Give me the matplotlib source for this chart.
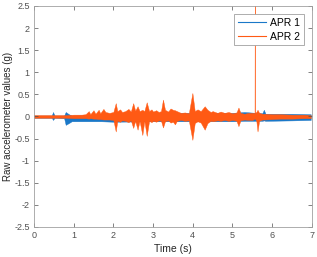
import matplotlib
matplotlib.use("Agg")
import matplotlib.pyplot as plt
from matplotlib.lines import Line2D
import numpy as np

plt.rcParams['font.family'] = ['Liberation Sans', 'DejaVu Sans']

# APR 2 envelope (time s, upper g, lower g)
apr2_t = [0.0, 0.45, 0.8, 1.0, 1.2, 1.3, 1.38, 1.42, 1.5, 1.55, 1.63, 1.67, 1.75, 1.8,
          1.9, 2.0, 2.06, 2.1, 2.17, 2.22, 2.3, 2.38, 2.44, 2.5, 2.55, 2.61, 2.66, 2.73,
          2.78, 2.84, 2.9, 2.96, 3.0, 3.08, 3.14, 3.2, 3.25, 3.3, 3.38, 3.44, 3.5, 3.55,
          3.6, 3.7, 3.8, 3.9, 3.99, 4.05, 4.12, 4.2, 4.3, 4.37, 4.45, 4.5, 4.62, 4.7,
          4.8, 4.9, 5.0, 5.1, 5.15, 5.2, 5.3, 5.4, 5.5, 5.555, 5.56, 5.565, 5.6, 5.63,
          5.67, 5.75, 5.8, 6.0, 6.2, 6.5, 6.8, 6.97]
apr2_hi = [0.03, 0.03, 0.03, 0.04, 0.04, 0.05, 0.12, 0.05, 0.14, 0.06, 0.15, 0.07, 0.17, 0.10,
           0.08, 0.10, 0.30, 0.12, 0.16, 0.10, 0.12, 0.17, 0.11, 0.30, 0.13, 0.23, 0.12, 0.15,
           0.12, 0.32, 0.12, 0.16, 0.11, 0.14, 0.10, 0.12, 0.38, 0.15, 0.11, 0.18, 0.15, 0.14,
           0.12, 0.08, 0.09, 0.07, 0.53, 0.12, 0.16, 0.12, 0.23, 0.15, 0.10, 0.12, 0.08, 0.11,
           0.08, 0.10, 0.07, 0.09, 0.20, 0.08, 0.06, 0.08, 0.08, 0.08, 2.7, 0.08, 0.10, 0.15,
           0.08, 0.06, 0.06, 0.05, 0.05, 0.04, 0.04, 0.03]
apr2_lo = [-0.03, -0.03, -0.03, -0.04, -0.04, -0.04, -0.05, -0.04, -0.05, -0.05, -0.06, -0.06, -0.07, -0.07,
           -0.07, -0.08, -0.34, -0.10, -0.12, -0.09, -0.10, -0.13, -0.09, -0.26, -0.10, -0.30, -0.10, -0.42,
           -0.10, -0.44, -0.10, -0.13, -0.10, -0.12, -0.09, -0.10, -0.25, -0.11, -0.09, -0.14, -0.12, -0.18,
           -0.10, -0.08, -0.10, -0.09, -0.53, -0.15, -0.11, -0.14, -0.30, -0.15, -0.10, -0.11, -0.09, -0.10,
           -0.08, -0.10, -0.08, -0.10, -0.22, -0.09, -0.07, -0.08, -0.08, -0.05, -0.05, -0.05, -0.10, -0.34,
           -0.10, -0.07, -0.07, -0.06, -0.05, -0.05, -0.04, -0.04]

# APR 1 envelope
apr1_t = [0.0, 0.45, 0.48, 0.52, 0.76, 0.8, 0.88, 0.95, 1.7, 2.0, 3.0, 4.0, 5.0,
          5.3, 5.75, 5.79, 5.83, 6.5, 6.97]
apr1_hi = [0.02, 0.02, 0.10, 0.02, 0.02, 0.10, 0.05, 0.02, 0.03, 0.05, 0.08, 0.08, 0.08,
           0.10, 0.07, 0.15, 0.06, 0.06, 0.05]
apr1_lo = [-0.03, -0.03, -0.08, -0.03, -0.04, -0.19, -0.15, -0.11, -0.11, -0.12, -0.11, -0.11, -0.11,
           -0.10, -0.10, -0.09, -0.10, -0.09, -0.08]

blue = '#1A78C8'
orange = '#FF5A14'

fig = plt.figure(figsize=(3.17, 2.57), dpi=100)
ax = fig.add_axes([0.107, 0.117, 0.877, 0.860])

ax.fill_between(apr1_t, apr1_lo, apr1_hi, color=blue, lw=0.3)
ax.fill_between(apr2_t, apr2_lo, apr2_hi, color=orange, lw=0.3)

ax.set_xlim(0, 7)
ax.set_ylim(-2.5, 2.5)
ax.set_xticks(np.arange(0, 8, 1))
ax.set_yticks(np.arange(-2.5, 2.51, 0.5))
ax.set_yticklabels(['-2.5', '-2', '-1.5', '-1', '-0.5', '0', '0.5', '1', '1.5', '2', '2.5'])
ax.tick_params(direction='in', length=3, width=0.5, labelsize=6.5, colors='#505050',
               top=True, right=True, pad=3)
for s in ax.spines.values():
    s.set_color('#A0A0A0')
    s.set_linewidth(0.6)

ax.set_xlabel('Time (s)', fontsize=7.5, color='#262626', labelpad=3)
ax.set_ylabel('Raw accelerometer values (g)', fontsize=7, color='#262626', labelpad=1)

handles = [Line2D([], [], color=blue, lw=0.8), Line2D([], [], color=orange, lw=0.8)]
leg = ax.legend(handles, ['APR 1', 'APR 2'], loc='upper right', fontsize=7.5,
                fancybox=False, framealpha=1, edgecolor='#A0A0A0', handlelength=2.7,
                borderaxespad=0.8, borderpad=0.35, labelspacing=0.35, handletextpad=0.4)
leg.get_frame().set_linewidth(0.6)

fig.savefig('out.png', dpi=100)
